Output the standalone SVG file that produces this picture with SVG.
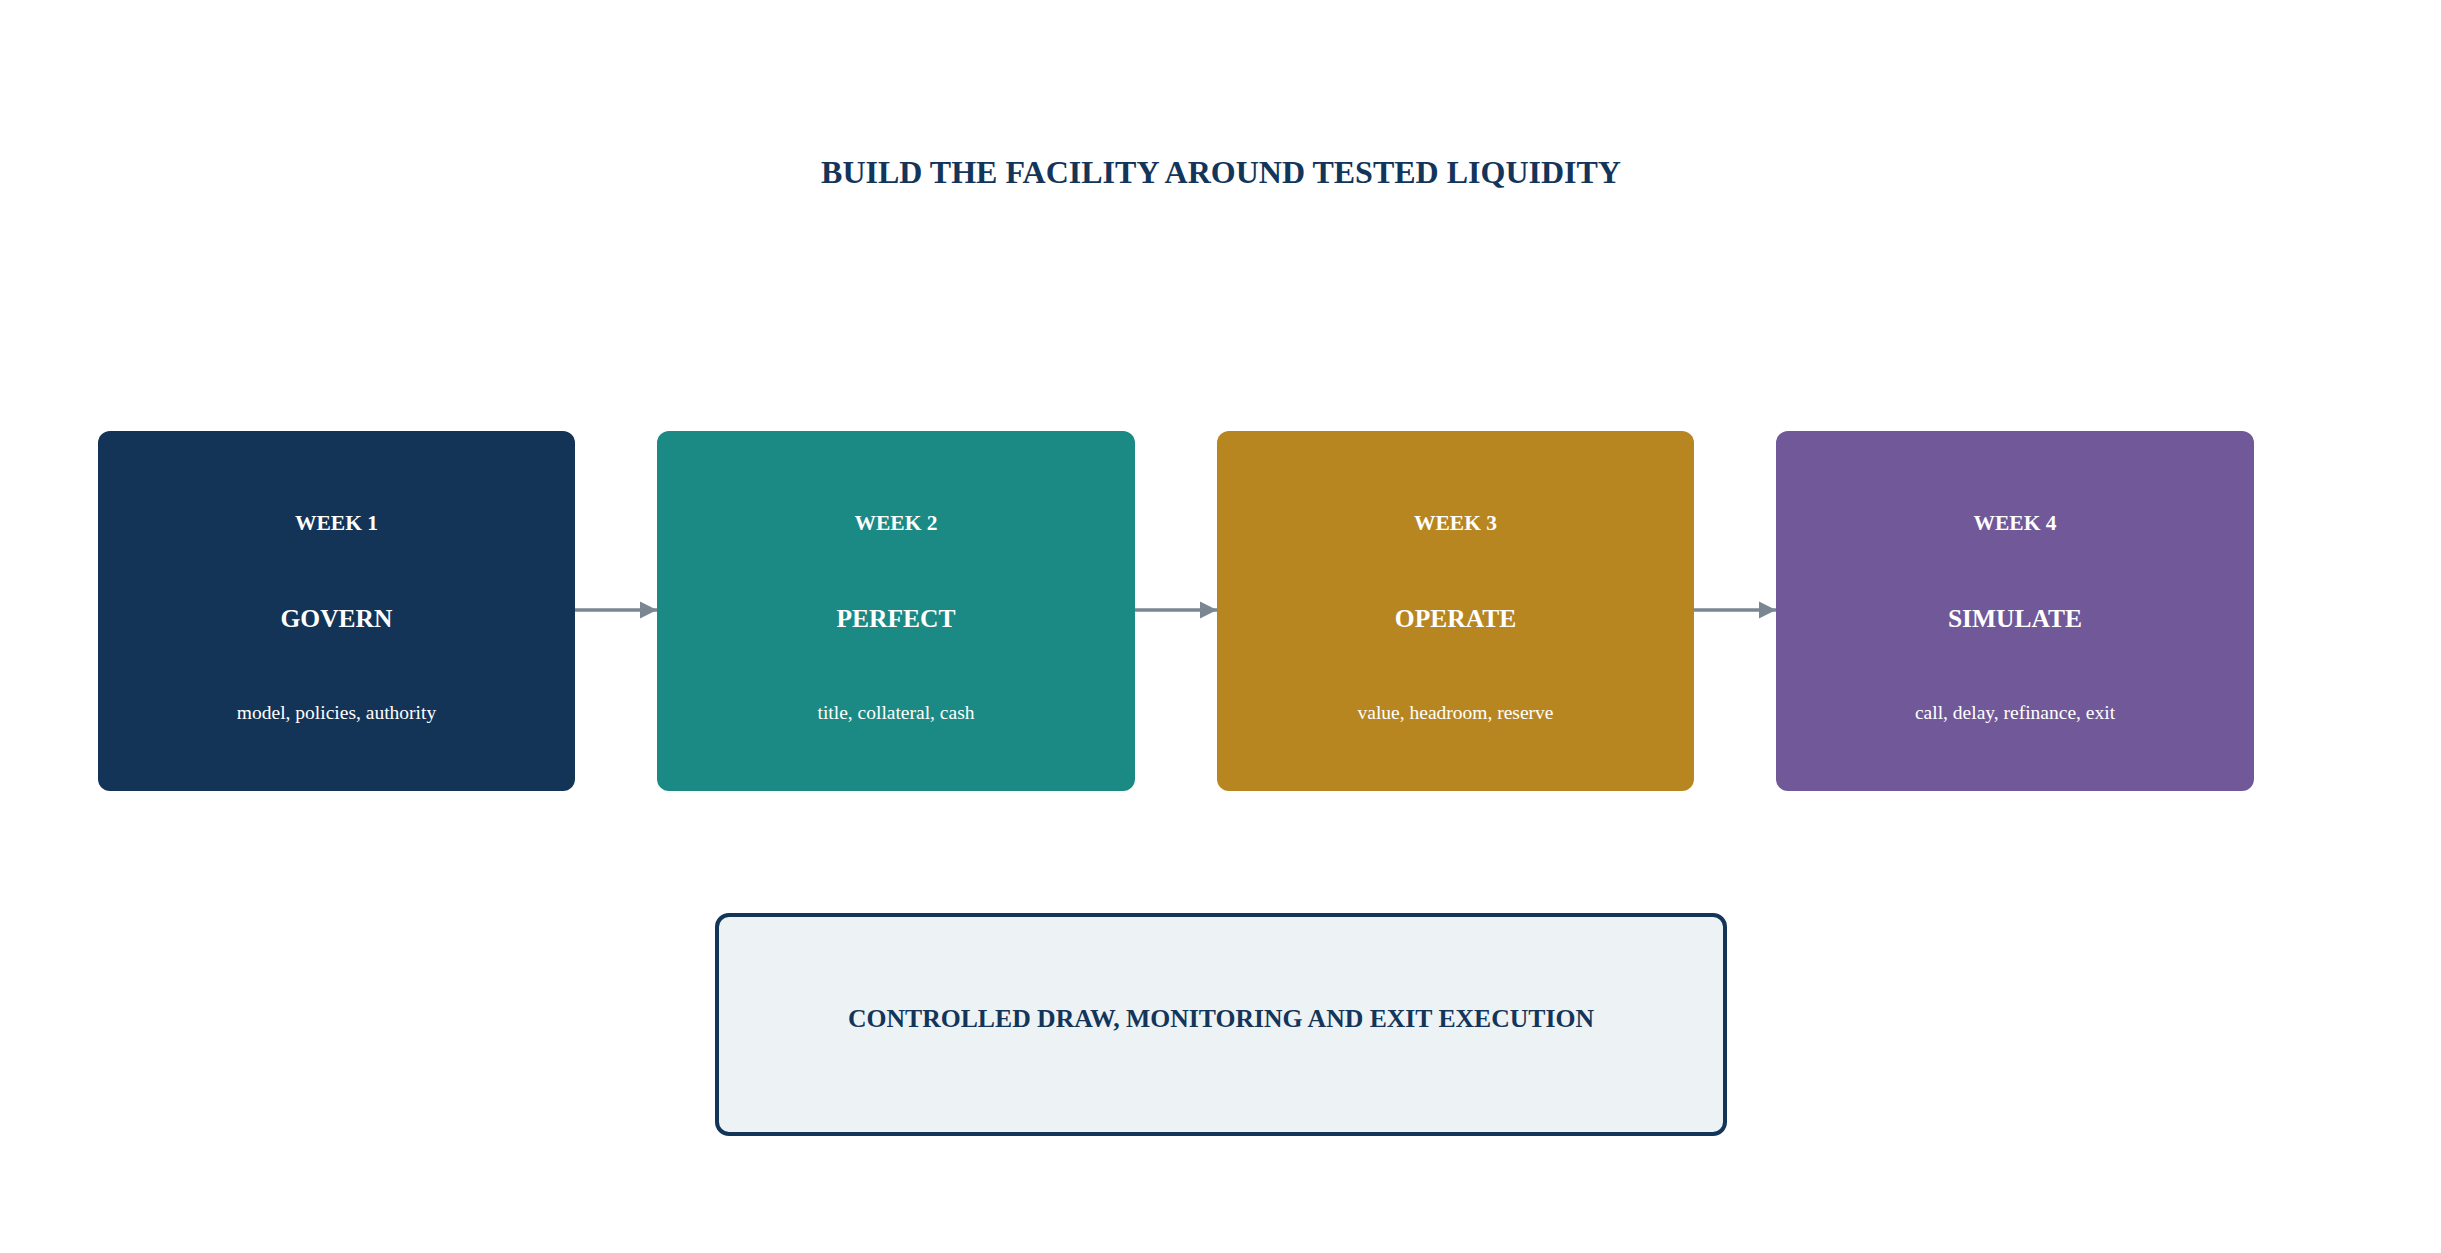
<svg xmlns="http://www.w3.org/2000/svg" width="2441" height="1253" viewBox="0 0 2441 1253">
<style>
text{font-family:"Liberation Serif","Times New Roman",serif;text-anchor:middle;dominant-baseline:central}
.title{font-size:32px;font-weight:bold;fill:#14355a}
.wk{font-size:21.5px;font-weight:bold;fill:#ffffff}
.nm{font-size:25.5px;font-weight:bold;fill:#ffffff}
.sub{font-size:19.5px;fill:#ffffff}
.conn{stroke:#7a8793;stroke-width:3.5;fill:none}
.foot{font-size:25.7px;font-weight:bold;fill:#14355a}
</style>
<defs>
<marker id="ah" viewBox="0 0 10 10" refX="10" refY="5" markerWidth="5" markerHeight="5" orient="auto" markerUnits="strokeWidth">
<path d="M0,0 L10,5 L0,10 Z" fill="#7a8793"/>
</marker>
</defs>
<rect width="2441" height="1253" fill="#ffffff"/>
<text class="title" x="1221" y="172">BUILD THE FACILITY AROUND TESTED LIQUIDITY</text>
<g id="connectors">
<line class="conn" x1="575" y1="610" x2="657" y2="610" marker-end="url(#ah)"/>
<line class="conn" x1="1135" y1="610" x2="1217" y2="610" marker-end="url(#ah)"/>
<line class="conn" x1="1694" y1="610" x2="1776" y2="610" marker-end="url(#ah)"/>
</g>
<g id="week1">
<rect x="98" y="431" width="477" height="360" rx="12" fill="#133457"/>
<text class="wk" x="336.5" y="523">WEEK 1</text>
<text class="nm" x="336.5" y="618">GOVERN</text>
<text class="sub" x="336.5" y="712">model, policies, authority</text>
</g>
<g id="week2">
<rect x="657" y="431" width="478" height="360" rx="12" fill="#1b8a84"/>
<text class="wk" x="896" y="523">WEEK 2</text>
<text class="nm" x="896" y="618">PERFECT</text>
<text class="sub" x="896" y="712">title, collateral, cash</text>
</g>
<g id="week3">
<rect x="1217" y="431" width="477" height="360" rx="12" fill="#b88620"/>
<text class="wk" x="1455.5" y="523">WEEK 3</text>
<text class="nm" x="1455.5" y="618">OPERATE</text>
<text class="sub" x="1455.5" y="712">value, headroom, reserve</text>
</g>
<g id="week4">
<rect x="1776" y="431" width="478" height="360" rx="12" fill="#705899"/>
<text class="wk" x="2015" y="523">WEEK 4</text>
<text class="nm" x="2015" y="618">SIMULATE</text>
<text class="sub" x="2015" y="712">call, delay, refinance, exit</text>
</g>
<g id="execution">
<rect x="717" y="915" width="1008" height="219" rx="12" fill="#edf2f5" stroke="#14355a" stroke-width="4"/>
<text class="foot" x="1221" y="1018">CONTROLLED DRAW, MONITORING AND EXIT EXECUTION</text>
</g>
</svg>
